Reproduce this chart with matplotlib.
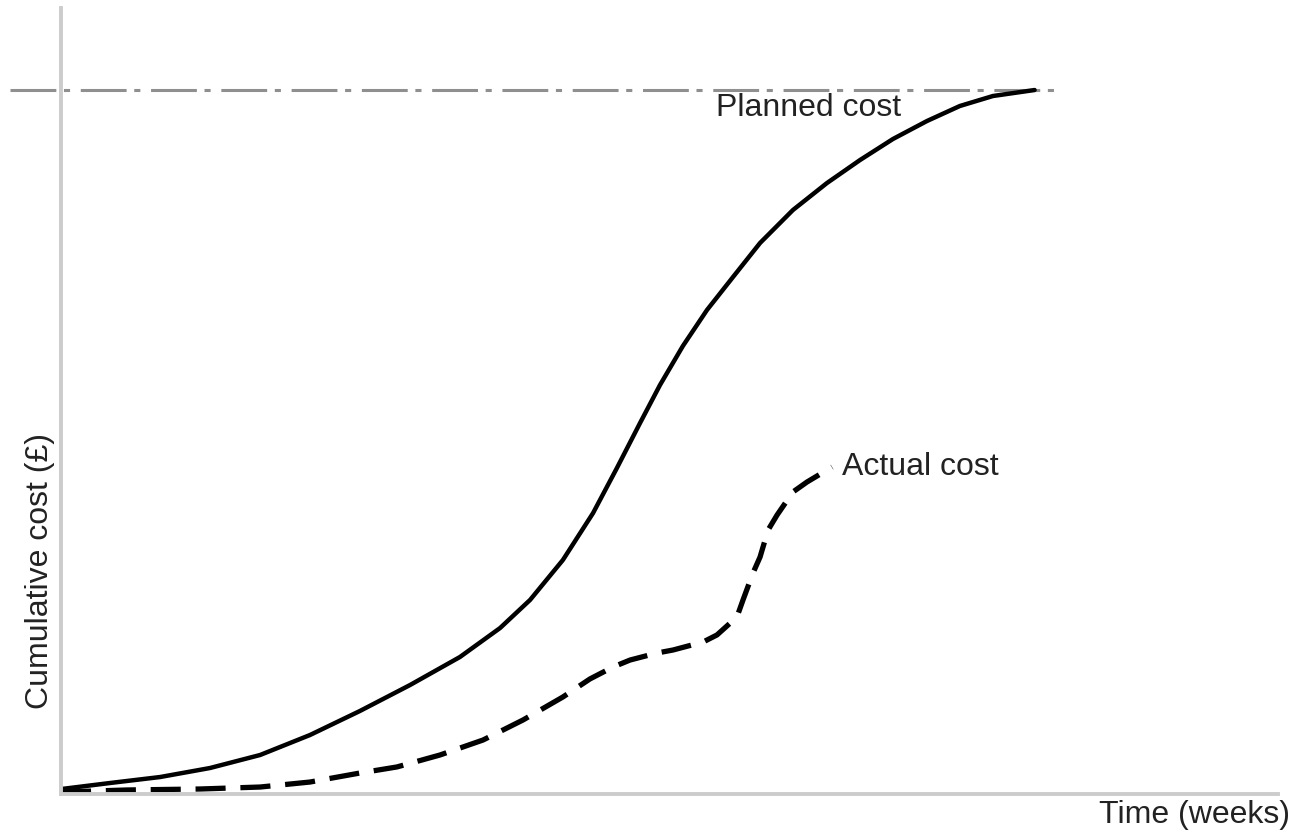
import matplotlib.pyplot as plt

plt.rcParams["font.family"] = ["Liberation Sans", "DejaVu Sans"]

# planned (budgeted) cumulative cost
planned_weeks = [0.0, 2.01, 4.07, 6.12, 8.18, 10.23, 12.28, 14.34, 16.39, 18.04,
                 19.27, 20.62, 21.86, 22.84, 23.79, 24.61, 25.55, 26.54, 27.61,
                 28.72, 30.07, 31.47, 32.83, 34.18, 35.58, 36.93, 38.29, 40.0]
planned_cost = [0.7, 1.56, 2.41, 3.69, 5.54, 8.38, 11.79, 15.48, 19.46, 23.58,
                27.56, 33.24, 39.91, 46.31, 52.7, 58.1, 63.64, 68.75, 73.44,
                78.27, 82.95, 86.79, 90.06, 93.04, 95.6, 97.73, 99.15, 100.0]

# actual cumulative cost so far
actual_weeks = [0.0, 2.71, 5.71, 8.18, 10.23, 12.28, 13.80, 15.57, 17.34, 18.98,
                20.62, 21.73, 22.68, 23.38, 24.49, 25.14, 26.38, 26.95, 27.77,
                28.02, 28.43, 28.72, 29.05, 29.42, 30.07, 30.65, 31.68]
actual_cost = [0.28, 0.57, 0.71, 0.99, 1.70, 2.98, 3.84, 5.54, 7.67, 10.51,
               13.78, 16.34, 18.04, 19.03, 20.03, 20.45, 21.59, 22.59, 25.14,
               27.56, 31.39, 33.66, 37.5, 39.63, 42.9, 44.32, 46.45]

# total budget line
budget = 100.0
budget_weeks = [-2.1, 41.0]

fig = plt.figure(figsize=(13, 8.35), dpi=100)
ax = fig.add_axes([61 / 1300, 41 / 835, 1217 / 1300, 786 / 835])

ax.plot(budget_weeks, [budget, budget], color="#8f8f8f", lw=2.2,
        dashes=(15, 2.5, 2, 3.5), clip_on=False)
ax.plot(planned_weeks, planned_cost, color="black", lw=3.2,
        solid_capstyle="round", solid_joinstyle="round")
ax.plot(actual_weeks, actual_cost, color="black", lw=3.8,
        dashes=(5.7, 2.8), dash_joinstyle="round")

ax.text(26.9, 97.4, "Planned cost", fontsize=23, color="#222222",
        ha="left", va="center")
ax.text(32.1, 46.4, "Actual cost", fontsize=23, color="#222222",
        ha="left", va="center")

ax.set_xlim(0, 50)
ax.set_ylim(0, 111.65)
ax.set_xticks([])
ax.set_yticks([])
for side in ["top", "right"]:
    ax.spines[side].set_visible(False)
for side in ["left", "bottom"]:
    ax.spines[side].set_color("#cccccc")
    ax.spines[side].set_linewidth(2.8)

fig.text(1290 / 1300, 1 - 815 / 835, "Time (weeks)", fontsize=23,
         color="#222222", ha="right", va="center")
fig.text(40 / 1300, 1 - 571 / 835, "Cumulative cost (£)", fontsize=23,
         color="#222222", ha="center", va="center", rotation=90)

fig.savefig("out.png", dpi=100)
